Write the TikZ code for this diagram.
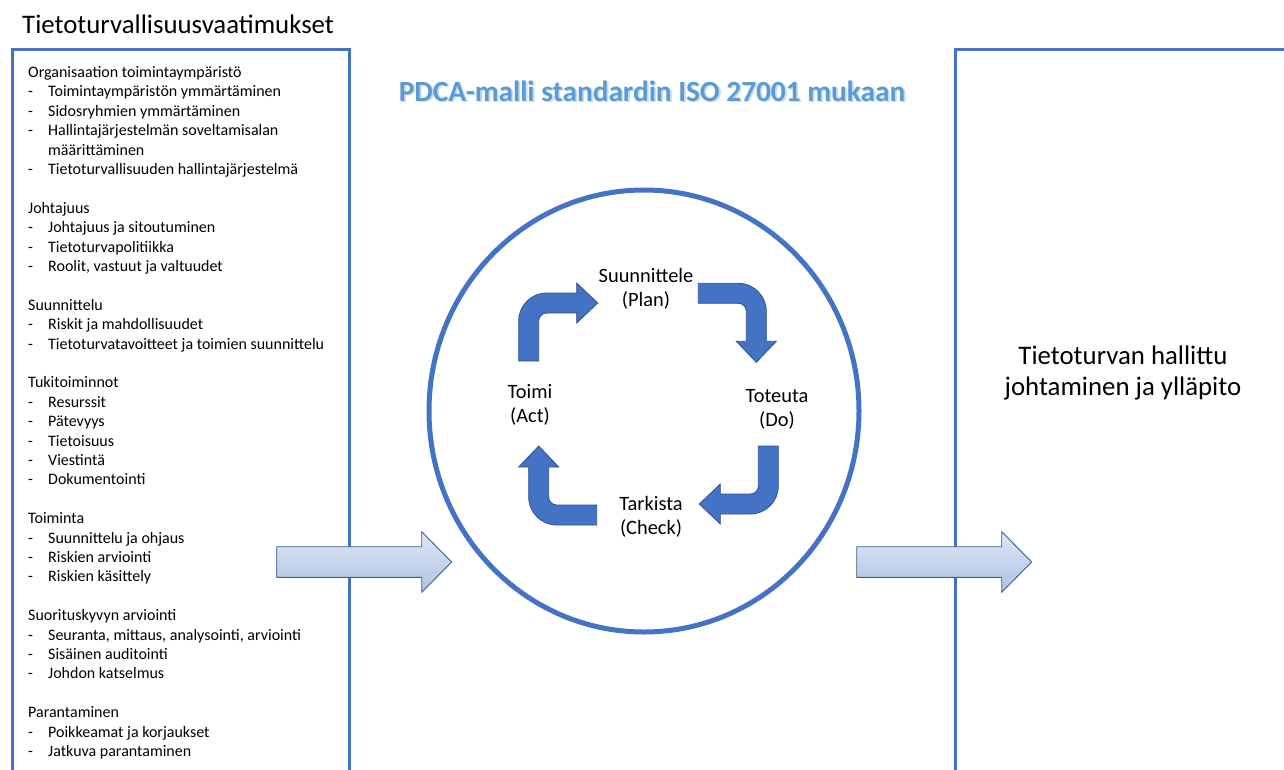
\documentclass[tikz,border=0pt]{standalone}
\usepackage{fontspec}
\setmainfont{Carlito}
\definecolor{accent}{HTML}{4472C4}
\definecolor{accentdark}{HTML}{2F528F}
\definecolor{arrowtop}{HTML}{DFE7F4}
\definecolor{arrowbot}{HTML}{AEC2E5}
\definecolor{arrowline}{HTML}{3A5D99}
\definecolor{titleblue}{HTML}{5B9BD5}
\definecolor{titleshadow}{HTML}{C9DDF2}
\newcommand\itm[1]{\makebox[20pt][l]{-}#1}
\tikzset{
  frameline/.style={draw=accent, line width=3pt},
  bentshape/.style={fill=accent, draw=accentdark, line width=0.8pt},
  bigarrow/.style={top color=arrowtop, bottom color=arrowbot, draw=arrowline, line width=0.9pt},
  phase/.style={align=center, font=\fontsize{20.4}{24}\selectfont, inner sep=0pt},
  bentarrow/.pic={
    \path[bentshape] (-10,0) -- (-10,40) arc[start angle=180,end angle=90,radius=28]
      -- (48,68) -- (48,78) -- (69,58) -- (48,38) -- (48,48) -- (18,48)
      arc[start angle=90,end angle=180,radius=8] -- (10,0) -- cycle;
  }
}
\begin{document}
\begin{tikzpicture}[x=1pt,y=1pt]
\useasboundingbox (0,0) rectangle (1284,-769);
\clip (0,0) rectangle (1284,-769);
\fill[white] (0,0) rectangle (1284,-769);

% frames
\draw[frameline] (12.5,-800) -- (12.5,-49.5) -- (349,-49.5) -- (349,-800);
\draw[frameline] (955.5,-800) -- (955.5,-49.5) -- (1300,-49.5);

% titles
\node[anchor=base west, inner sep=0pt, font=\fontsize{26.8}{32}\selectfont] (reqtitle) at (22,-33) {Tietoturvallisuusvaatimukset};
\node[font=\fontsize{29.3}{34}\selectfont\bfseries, text=titleshadow, inner sep=0pt] (pdcashadow) at (653.8,-92.8) {PDCA-malli standardin ISO 27001 mukaan};
\node[font=\fontsize{29.3}{34}\selectfont\bfseries, text=titleblue, inner sep=0pt] (pdcatitle) at (652,-91) {PDCA-malli standardin ISO 27001 mukaan};
\node[align=center, inner sep=0pt, font=\fontsize{26.8}{31}\selectfont] (result) at (1123,-373) {Tietoturvan hallittu\\johtaminen ja ylläpito};

% requirement list
\node[anchor=base west, inner sep=0pt, font=\fontsize{16}{19.4}\selectfont] (reqlist) at (28,-77.5) {\parbox[t]{320pt}{\raggedright
Organisaation toimintaympäristö\\
\itm{Toimintaympäristön ymmärtäminen}\\
\itm{Sidosryhmien ymmärtäminen}\\
\itm{Hallintajärjestelmän soveltamisalan}\\
\hspace*{20pt}määrittäminen\\
\itm{Tietoturvallisuuden hallintajärjestelmä}\\
\mbox{}\\
Johtajuus\\
\itm{Johtajuus ja sitoutuminen}\\
\itm{Tietoturvapolitiikka}\\
\itm{Roolit, vastuut ja valtuudet}\\
\mbox{}\\
Suunnittelu\\
\itm{Riskit ja mahdollisuudet}\\
\itm{Tietoturvatavoitteet ja toimien suunnittelu}\\
\mbox{}\\
Tukitoiminnot\\
\itm{Resurssit}\\
\itm{Pätevyys}\\
\itm{Tietoisuus}\\
\itm{Viestintä}\\
\itm{Dokumentointi}\\
\mbox{}\\
Toiminta\\
\itm{Suunnittelu ja ohjaus}\\
\itm{Riskien arviointi}\\
\itm{Riskien käsittely}\\
\mbox{}\\
Suorituskyvyn arviointi\\
\itm{Seuranta, mittaus, analysointi, arviointi}\\
\itm{Sisäinen auditointi}\\
\itm{Johdon katselmus}\\
\mbox{}\\
Parantaminen\\
\itm{Poikkeamat ja korjaukset}\\
\itm{Jatkuva parantaminen}}};

% circle
\draw[accent, line width=5pt] (644,-411) ellipse [x radius=215, y radius=221];

% big arrows
\path[bigarrow] (276.7,-546.7) -- (421.7,-546.7) -- (421.7,-531.7) -- (451.7,-562)
  -- (421.7,-592.3) -- (421.7,-577.3) -- (276.7,-577.3) -- cycle;
\path[bigarrow] (856.7,-546.7) -- (1001.7,-546.7) -- (1001.7,-531.7) -- (1031.7,-562)
  -- (1001.7,-592.3) -- (1001.7,-577.3) -- (856.7,-577.3) -- cycle;

% cycle arrows
\pic at (528.7,-361) {bentarrow};
\pic[rotate=-90] at (698.3,-293.3) {bentarrow};
\pic[rotate=180] at (768.3,-446) {bentarrow};
\pic[rotate=90] at (596.7,-515) {bentarrow};

% phase labels
\node[phase] (plan) at (646,-289) {Suunnittele\\(Plan)};
\node[phase] (do) at (777,-409) {Toteuta\\(Do)};
\node[phase] (check) at (651,-517) {Tarkista\\(Check)};
\node[phase] (act) at (530,-405) {Toimi\\(Act)};
\end{tikzpicture}
\end{document}
